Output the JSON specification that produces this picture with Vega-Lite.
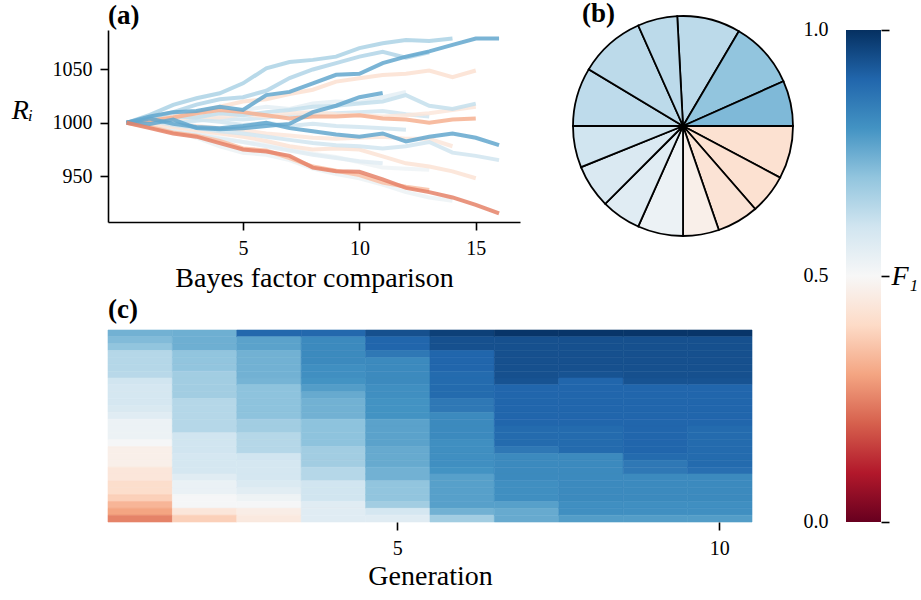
{
"$schema": "https://vega.github.io/schema/vega-lite/v6.json",
"autosize": {"type": "none"},
"padding": {"left": 108, "top": 30, "right": 813, "bottom": 570},
"background": "white",
"config": {
  "font": "Liberation Serif",
  "view": {"stroke": null},
  "axis": {"labelFont": "Liberation Serif", "labelFontSize": 20, "labelColor": "black", "titleFont": "Liberation Serif", "titleFontSize": 28, "titleFontWeight": "normal", "titleColor": "black", "domainColor": "black", "tickColor": "black", "domainWidth": 1.6, "tickWidth": 1.6, "tickSize": 8, "grid": false, "labelPadding": 8},
  "title": {"font": "Liberation Serif", "fontSize": 27, "fontWeight": "bold", "anchor": "start", "color": "black", "frame": "group"}
},
"bounds": "flush",
"spacing": 465,
"hconcat": [
 {"vconcat": [
   {
    "width": 412, "height": 192,
    "title": {"text": "(a)", "offset": 0},
    "data": {"values": [
{"id":1,"f":0.52,"x":0,"y":1000},{"id":1,"f":0.52,"x":1,"y":998},{"id":1,"f":0.52,"x":2,"y":995},{"id":1,"f":0.52,"x":3,"y":990},{"id":1,"f":0.52,"x":4,"y":986},{"id":1,"f":0.52,"x":5,"y":982},{"id":1,"f":0.52,"x":6,"y":980},{"id":1,"f":0.52,"x":7,"y":975},{"id":1,"f":0.52,"x":8,"y":971},{"id":1,"f":0.52,"x":9,"y":968},{"id":1,"f":0.52,"x":10,"y":963},{"id":1,"f":0.52,"x":11,"y":958},{"id":1,"f":0.52,"x":12,"y":957},{"id":1,"f":0.52,"x":13,"y":956},
{"id":2,"f":0.53,"x":0,"y":1000},{"id":2,"f":0.53,"x":1,"y":997},{"id":2,"f":0.53,"x":2,"y":993},{"id":2,"f":0.53,"x":3,"y":986},{"id":2,"f":0.53,"x":4,"y":978},{"id":2,"f":0.53,"x":5,"y":972},{"id":2,"f":0.53,"x":6,"y":970},{"id":2,"f":0.53,"x":7,"y":965},{"id":2,"f":0.53,"x":8,"y":957},{"id":2,"f":0.53,"x":9,"y":952},{"id":2,"f":0.53,"x":10,"y":948},{"id":2,"f":0.53,"x":11,"y":942},{"id":2,"f":0.53,"x":12,"y":935},{"id":2,"f":0.53,"x":13,"y":930},{"id":2,"f":0.53,"x":14,"y":927},
{"id":3,"f":0.56,"x":0,"y":1000},{"id":3,"f":0.56,"x":1,"y":997},{"id":3,"f":0.56,"x":2,"y":992},{"id":3,"f":0.56,"x":3,"y":989},{"id":3,"f":0.56,"x":4,"y":985},{"id":3,"f":0.56,"x":5,"y":982},{"id":3,"f":0.56,"x":6,"y":978},{"id":3,"f":0.56,"x":7,"y":974},{"id":3,"f":0.56,"x":8,"y":970},{"id":3,"f":0.56,"x":9,"y":967},{"id":3,"f":0.56,"x":10,"y":964},{"id":3,"f":0.56,"x":11,"y":962},
{"id":4,"f":0.55,"x":0,"y":1000},{"id":4,"f":0.55,"x":1,"y":1003},{"id":4,"f":0.55,"x":2,"y":1007},{"id":4,"f":0.55,"x":3,"y":1005},{"id":4,"f":0.55,"x":4,"y":1008},{"id":4,"f":0.55,"x":5,"y":1012},{"id":4,"f":0.55,"x":6,"y":1015},{"id":4,"f":0.55,"x":7,"y":1013},{"id":4,"f":0.55,"x":8,"y":1018},{"id":4,"f":0.55,"x":9,"y":1020},{"id":4,"f":0.55,"x":10,"y":1019},{"id":4,"f":0.55,"x":11,"y":1024},{"id":4,"f":0.55,"x":12,"y":1029},
{"id":5,"f":0.6,"x":0,"y":1000},{"id":5,"f":0.6,"x":1,"y":1001},{"id":5,"f":0.6,"x":2,"y":999},{"id":5,"f":0.6,"x":3,"y":1002},{"id":5,"f":0.6,"x":4,"y":1004},{"id":5,"f":0.6,"x":5,"y":1003},{"id":5,"f":0.6,"x":6,"y":1005},{"id":5,"f":0.6,"x":7,"y":1007},{"id":5,"f":0.6,"x":8,"y":1008},{"id":5,"f":0.6,"x":9,"y":1009},{"id":5,"f":0.6,"x":10,"y":1010},{"id":5,"f":0.6,"x":11,"y":1011},{"id":5,"f":0.6,"x":12,"y":1008},{"id":5,"f":0.6,"x":13,"y":1006},
{"id":6,"f":0.6,"x":0,"y":1000},{"id":6,"f":0.6,"x":1,"y":1002},{"id":6,"f":0.6,"x":2,"y":1000},{"id":6,"f":0.6,"x":3,"y":1003},{"id":6,"f":0.6,"x":4,"y":1001},{"id":6,"f":0.6,"x":5,"y":998},{"id":6,"f":0.6,"x":6,"y":1000},{"id":6,"f":0.6,"x":7,"y":997},{"id":6,"f":0.6,"x":8,"y":999},{"id":6,"f":0.6,"x":9,"y":997},{"id":6,"f":0.6,"x":10,"y":996},{"id":6,"f":0.6,"x":11,"y":995},{"id":6,"f":0.6,"x":12,"y":993.5},
{"id":7,"f":0.44,"x":0,"y":1000},{"id":7,"f":0.44,"x":1,"y":1001},{"id":7,"f":0.44,"x":2,"y":998},{"id":7,"f":0.44,"x":3,"y":997},{"id":7,"f":0.44,"x":4,"y":995},{"id":7,"f":0.44,"x":5,"y":993},{"id":7,"f":0.44,"x":6,"y":990},{"id":7,"f":0.44,"x":7,"y":988},{"id":7,"f":0.44,"x":8,"y":986},{"id":7,"f":0.44,"x":9,"y":985},{"id":7,"f":0.44,"x":10,"y":986},{"id":7,"f":0.44,"x":11,"y":987},{"id":7,"f":0.44,"x":12,"y":985},{"id":7,"f":0.44,"x":13,"y":985},{"id":7,"f":0.44,"x":14,"y":978},
{"id":8,"f":0.43,"x":0,"y":1000},{"id":8,"f":0.43,"x":1,"y":998},{"id":8,"f":0.43,"x":2,"y":996},{"id":8,"f":0.43,"x":3,"y":993},{"id":8,"f":0.43,"x":4,"y":990},{"id":8,"f":0.43,"x":5,"y":987},{"id":8,"f":0.43,"x":6,"y":983},{"id":8,"f":0.43,"x":7,"y":978},{"id":8,"f":0.43,"x":8,"y":975},{"id":8,"f":0.43,"x":9,"y":976},{"id":8,"f":0.43,"x":10,"y":975},{"id":8,"f":0.43,"x":11,"y":968.5},{"id":8,"f":0.43,"x":12,"y":962},{"id":8,"f":0.43,"x":13,"y":959},{"id":8,"f":0.43,"x":14,"y":954.5},{"id":8,"f":0.43,"x":15,"y":948},
{"id":9,"f":0.44,"x":0,"y":1000},{"id":9,"f":0.44,"x":1,"y":1001},{"id":9,"f":0.44,"x":2,"y":1003},{"id":9,"f":0.44,"x":3,"y":1006},{"id":9,"f":0.44,"x":4,"y":1005},{"id":9,"f":0.44,"x":5,"y":1008},{"id":9,"f":0.44,"x":6,"y":1006},{"id":9,"f":0.44,"x":7,"y":1009},{"id":9,"f":0.44,"x":8,"y":1010},{"id":9,"f":0.44,"x":9,"y":1008},{"id":9,"f":0.44,"x":10,"y":1007},{"id":9,"f":0.44,"x":11,"y":1006},{"id":9,"f":0.44,"x":12,"y":1007},{"id":9,"f":0.44,"x":13,"y":1009},{"id":9,"f":0.44,"x":14,"y":1012},{"id":9,"f":0.44,"x":15,"y":1015},
{"id":10,"f":0.62,"x":0,"y":1000},{"id":10,"f":0.62,"x":1,"y":1004},{"id":10,"f":0.62,"x":2,"y":1006},{"id":10,"f":0.62,"x":3,"y":1005},{"id":10,"f":0.62,"x":4,"y":1009},{"id":10,"f":0.62,"x":5,"y":1007},{"id":10,"f":0.62,"x":6,"y":1010},{"id":10,"f":0.62,"x":7,"y":1012},{"id":10,"f":0.62,"x":8,"y":1015},{"id":10,"f":0.62,"x":9,"y":1016},{"id":10,"f":0.62,"x":10,"y":1018},{"id":10,"f":0.62,"x":11,"y":1020},{"id":10,"f":0.62,"x":12,"y":1026},{"id":10,"f":0.62,"x":13,"y":1016},{"id":10,"f":0.62,"x":14,"y":1013},{"id":10,"f":0.62,"x":15,"y":1018},
{"id":11,"f":0.6,"x":0,"y":1000},{"id":11,"f":0.6,"x":1,"y":1002},{"id":11,"f":0.6,"x":2,"y":998},{"id":11,"f":0.6,"x":3,"y":995},{"id":11,"f":0.6,"x":4,"y":992},{"id":11,"f":0.6,"x":5,"y":990},{"id":11,"f":0.6,"x":6,"y":987},{"id":11,"f":0.6,"x":7,"y":984},{"id":11,"f":0.6,"x":8,"y":981},{"id":11,"f":0.6,"x":9,"y":979},{"id":11,"f":0.6,"x":10,"y":978},{"id":11,"f":0.6,"x":11,"y":976},{"id":11,"f":0.6,"x":12,"y":978},{"id":11,"f":0.6,"x":13,"y":982},{"id":11,"f":0.6,"x":14,"y":972},{"id":11,"f":0.6,"x":15,"y":969},{"id":11,"f":0.6,"x":16,"y":965},
{"id":12,"f":0.42,"x":0,"y":1000},{"id":12,"f":0.42,"x":1,"y":1002},{"id":12,"f":0.42,"x":2,"y":1006},{"id":12,"f":0.42,"x":3,"y":1010},{"id":12,"f":0.42,"x":4,"y":1015},{"id":12,"f":0.42,"x":5,"y":1020},{"id":12,"f":0.42,"x":6,"y":1022},{"id":12,"f":0.42,"x":7,"y":1027},{"id":12,"f":0.42,"x":8,"y":1031},{"id":12,"f":0.42,"x":9,"y":1038.6},{"id":12,"f":0.42,"x":10,"y":1041.8},{"id":12,"f":0.42,"x":11,"y":1044.9},{"id":12,"f":0.42,"x":12,"y":1046},{"id":12,"f":0.42,"x":13,"y":1049},{"id":12,"f":0.42,"x":14,"y":1042.7},{"id":12,"f":0.42,"x":15,"y":1049},
{"id":13,"f":0.65,"x":0,"y":1000},{"id":13,"f":0.65,"x":1,"y":1005},{"id":13,"f":0.65,"x":2,"y":1010},{"id":13,"f":0.65,"x":3,"y":1017},{"id":13,"f":0.65,"x":4,"y":1022},{"id":13,"f":0.65,"x":5,"y":1024},{"id":13,"f":0.65,"x":6,"y":1030},{"id":13,"f":0.65,"x":7,"y":1042},{"id":13,"f":0.65,"x":8,"y":1050},{"id":13,"f":0.65,"x":9,"y":1056},{"id":13,"f":0.65,"x":10,"y":1062},{"id":13,"f":0.65,"x":11,"y":1066.6},{"id":13,"f":0.65,"x":12,"y":1061},{"id":13,"f":0.65,"x":13,"y":1066},
{"id":14,"f":0.66,"x":0,"y":1000},{"id":14,"f":0.66,"x":1,"y":1007.5},{"id":14,"f":0.66,"x":2,"y":1016.8},{"id":14,"f":0.66,"x":3,"y":1023},{"id":14,"f":0.66,"x":4,"y":1027.7},{"id":14,"f":0.66,"x":5,"y":1037},{"id":14,"f":0.66,"x":6,"y":1051},{"id":14,"f":0.66,"x":7,"y":1057},{"id":14,"f":0.66,"x":8,"y":1059},{"id":14,"f":0.66,"x":9,"y":1062},{"id":14,"f":0.66,"x":10,"y":1070},{"id":14,"f":0.66,"x":11,"y":1074.5},{"id":14,"f":0.66,"x":12,"y":1077.6},{"id":14,"f":0.66,"x":13,"y":1076.6},{"id":14,"f":0.66,"x":14,"y":1079},
{"id":15,"f":0.35,"x":0,"y":1000},{"id":15,"f":0.35,"x":1,"y":996},{"id":15,"f":0.35,"x":2,"y":991},{"id":15,"f":0.35,"x":3,"y":988},{"id":15,"f":0.35,"x":4,"y":983},{"id":15,"f":0.35,"x":5,"y":976},{"id":15,"f":0.35,"x":6,"y":974},{"id":15,"f":0.35,"x":7,"y":967},{"id":15,"f":0.35,"x":8,"y":959},{"id":15,"f":0.35,"x":9,"y":955},{"id":15,"f":0.35,"x":10,"y":951},{"id":15,"f":0.35,"x":11,"y":944},{"id":15,"f":0.35,"x":12,"y":940},{"id":15,"f":0.35,"x":13,"y":937},
{"id":16,"f":0.32,"x":0,"y":1000},{"id":16,"f":0.32,"x":1,"y":1002},{"id":16,"f":0.32,"x":2,"y":1005},{"id":16,"f":0.32,"x":3,"y":1009},{"id":16,"f":0.32,"x":4,"y":1012},{"id":16,"f":0.32,"x":5,"y":1010},{"id":16,"f":0.32,"x":6,"y":1007},{"id":16,"f":0.32,"x":7,"y":1004},{"id":16,"f":0.32,"x":8,"y":1006},{"id":16,"f":0.32,"x":9,"y":1006},{"id":16,"f":0.32,"x":10,"y":1007},{"id":16,"f":0.32,"x":11,"y":1004},{"id":16,"f":0.32,"x":12,"y":1003},{"id":16,"f":0.32,"x":13,"y":1000},{"id":16,"f":0.32,"x":14,"y":1003},{"id":16,"f":0.32,"x":15,"y":1004},
{"id":17,"f":0.76,"x":0,"y":1000},{"id":17,"f":0.76,"x":1,"y":999},{"id":17,"f":0.76,"x":2,"y":1003},{"id":17,"f":0.76,"x":3,"y":995},{"id":17,"f":0.76,"x":4,"y":994},{"id":17,"f":0.76,"x":5,"y":995},{"id":17,"f":0.76,"x":6,"y":997},{"id":17,"f":0.76,"x":7,"y":999},{"id":17,"f":0.76,"x":8,"y":1010},{"id":17,"f":0.76,"x":9,"y":1016},{"id":17,"f":0.76,"x":10,"y":1024},{"id":17,"f":0.76,"x":11,"y":1028},
{"id":18,"f":0.76,"x":0,"y":1000},{"id":18,"f":0.76,"x":1,"y":1004},{"id":18,"f":0.76,"x":2,"y":999},{"id":18,"f":0.76,"x":3,"y":996},{"id":18,"f":0.76,"x":4,"y":995},{"id":18,"f":0.76,"x":5,"y":997},{"id":18,"f":0.76,"x":6,"y":1000},{"id":18,"f":0.76,"x":7,"y":995},{"id":18,"f":0.76,"x":8,"y":992},{"id":18,"f":0.76,"x":9,"y":989},{"id":18,"f":0.76,"x":10,"y":987},{"id":18,"f":0.76,"x":11,"y":990},{"id":18,"f":0.76,"x":12,"y":982.5},{"id":18,"f":0.76,"x":13,"y":987},{"id":18,"f":0.76,"x":14,"y":990},{"id":18,"f":0.76,"x":15,"y":986},{"id":18,"f":0.76,"x":16,"y":979},
{"id":19,"f":0.76,"x":0,"y":1000},{"id":19,"f":0.76,"x":1,"y":1006},{"id":19,"f":0.76,"x":2,"y":1010},{"id":19,"f":0.76,"x":3,"y":1011},{"id":19,"f":0.76,"x":4,"y":1015},{"id":19,"f":0.76,"x":5,"y":1012},{"id":19,"f":0.76,"x":6,"y":1026},{"id":19,"f":0.76,"x":7,"y":1029},{"id":19,"f":0.76,"x":8,"y":1037},{"id":19,"f":0.76,"x":9,"y":1045},{"id":19,"f":0.76,"x":10,"y":1046},{"id":19,"f":0.76,"x":11,"y":1056},{"id":19,"f":0.76,"x":12,"y":1062},{"id":19,"f":0.76,"x":13,"y":1067},{"id":19,"f":0.76,"x":14,"y":1073},{"id":19,"f":0.76,"x":15,"y":1079},{"id":19,"f":0.76,"x":16,"y":1079},
{"id":20,"f":0.25,"x":0,"y":1000},{"id":20,"f":0.25,"x":1,"y":995},{"id":20,"f":0.25,"x":2,"y":990},{"id":20,"f":0.25,"x":3,"y":987},{"id":20,"f":0.25,"x":4,"y":981},{"id":20,"f":0.25,"x":5,"y":975},{"id":20,"f":0.25,"x":6,"y":973},{"id":20,"f":0.25,"x":7,"y":969},{"id":20,"f":0.25,"x":8,"y":958},{"id":20,"f":0.25,"x":9,"y":954.5},{"id":20,"f":0.25,"x":10,"y":954},{"id":20,"f":0.25,"x":11,"y":947},{"id":20,"f":0.25,"x":12,"y":939},{"id":20,"f":0.25,"x":13,"y":935},{"id":20,"f":0.25,"x":14,"y":930},{"id":20,"f":0.25,"x":15,"y":923},{"id":20,"f":0.25,"x":16,"y":915}
    ]},
    "mark": {"type": "line", "strokeWidth": 4, "opacity": 0.85},
    "encoding": {
      "x": {"field": "x", "type": "quantitative", "scale": {"domain": [-0.8, 16.9], "nice": false, "zero": false}, "axis": {"values": [5, 10, 15], "title": "Bayes factor comparison", "titlePadding": 6}},
      "y": {"field": "y", "type": "quantitative", "scale": {"domain": [907, 1087], "nice": false, "zero": false}, "axis": {"values": [950, 1000, 1050], "format": "d", "title": "Rᵢ", "titleAngle": 0, "titleFontStyle": "italic", "titleX": -86, "titleY": 80, "titleAlign": "center", "titleBaseline": "middle"}},
      "detail": {"field": "id", "type": "quantitative"},
      "color": {"field": "f", "type": "quantitative", "scale": {"type": "linear", "domain": [0, 0.1, 0.2, 0.3, 0.4, 0.5, 0.6, 0.7, 0.8, 0.9, 1], "range": ["#67001f", "#b2182b", "#d6604d", "#f4a582", "#fddbc7", "#f7f7f7", "#d1e5f0", "#92c5de", "#4393c3", "#2166ac", "#053061"], "interpolate": "rgb"}, "legend": null}
    }
   },
  {
   "width": 644, "height": 192,
   "title": {"text": "(c)", "offset": 6},
   "data": {"values": [
{"g":1,"r":0,"f":0.74},{"g":1,"r":1,"f":0.72},{"g":1,"r":2,"f":0.70},{"g":1,"r":3,"f":0.645},{"g":1,"r":4,"f":0.645},{"g":1,"r":5,"f":0.645},{"g":1,"r":6,"f":0.64},{"g":1,"r":7,"f":0.60},{"g":1,"r":8,"f":0.59},{"g":1,"r":9,"f":0.59},{"g":1,"r":10,"f":0.59},{"g":1,"r":11,"f":0.58},{"g":1,"r":12,"f":0.56},{"g":1,"r":13,"f":0.53},{"g":1,"r":14,"f":0.53},{"g":1,"r":15,"f":0.53},{"g":1,"r":16,"f":0.505},{"g":1,"r":17,"f":0.47},{"g":1,"r":18,"f":0.47},{"g":1,"r":19,"f":0.47},{"g":1,"r":20,"f":0.44},{"g":1,"r":21,"f":0.44},{"g":1,"r":22,"f":0.41},{"g":1,"r":23,"f":0.41},{"g":1,"r":24,"f":0.38},{"g":1,"r":25,"f":0.33},{"g":1,"r":26,"f":0.30},{"g":1,"r":27,"f":0.25},
{"g":2,"r":0,"f":0.745},{"g":2,"r":1,"f":0.745},{"g":2,"r":2,"f":0.745},{"g":2,"r":3,"f":0.70},{"g":2,"r":4,"f":0.70},{"g":2,"r":5,"f":0.70},{"g":2,"r":6,"f":0.675},{"g":2,"r":7,"f":0.675},{"g":2,"r":8,"f":0.675},{"g":2,"r":9,"f":0.675},{"g":2,"r":10,"f":0.645},{"g":2,"r":11,"f":0.645},{"g":2,"r":12,"f":0.645},{"g":2,"r":13,"f":0.645},{"g":2,"r":14,"f":0.645},{"g":2,"r":15,"f":0.60},{"g":2,"r":16,"f":0.60},{"g":2,"r":17,"f":0.60},{"g":2,"r":18,"f":0.59},{"g":2,"r":19,"f":0.59},{"g":2,"r":20,"f":0.59},{"g":2,"r":21,"f":0.56},{"g":2,"r":22,"f":0.535},{"g":2,"r":23,"f":0.535},{"g":2,"r":24,"f":0.505},{"g":2,"r":25,"f":0.505},{"g":2,"r":26,"f":0.44},{"g":2,"r":27,"f":0.38},
{"g":3,"r":0,"f":0.895},{"g":3,"r":1,"f":0.77},{"g":3,"r":2,"f":0.77},{"g":3,"r":3,"f":0.74},{"g":3,"r":4,"f":0.74},{"g":3,"r":5,"f":0.74},{"g":3,"r":6,"f":0.74},{"g":3,"r":7,"f":0.735},{"g":3,"r":8,"f":0.705},{"g":3,"r":9,"f":0.705},{"g":3,"r":10,"f":0.705},{"g":3,"r":11,"f":0.705},{"g":3,"r":12,"f":0.705},{"g":3,"r":13,"f":0.675},{"g":3,"r":14,"f":0.675},{"g":3,"r":15,"f":0.645},{"g":3,"r":16,"f":0.645},{"g":3,"r":17,"f":0.645},{"g":3,"r":18,"f":0.60},{"g":3,"r":19,"f":0.59},{"g":3,"r":20,"f":0.59},{"g":3,"r":21,"f":0.59},{"g":3,"r":22,"f":0.575},{"g":3,"r":23,"f":0.555},{"g":3,"r":24,"f":0.525},{"g":3,"r":25,"f":0.505},{"g":3,"r":26,"f":0.465},{"g":3,"r":27,"f":0.45},
{"g":4,"r":0,"f":0.895},{"g":4,"r":1,"f":0.82},{"g":4,"r":2,"f":0.82},{"g":4,"r":3,"f":0.82},{"g":4,"r":4,"f":0.82},{"g":4,"r":5,"f":0.81},{"g":4,"r":6,"f":0.81},{"g":4,"r":7,"f":0.80},{"g":4,"r":8,"f":0.78},{"g":4,"r":9,"f":0.755},{"g":4,"r":10,"f":0.74},{"g":4,"r":11,"f":0.74},{"g":4,"r":12,"f":0.74},{"g":4,"r":13,"f":0.705},{"g":4,"r":14,"f":0.705},{"g":4,"r":15,"f":0.705},{"g":4,"r":16,"f":0.705},{"g":4,"r":17,"f":0.675},{"g":4,"r":18,"f":0.675},{"g":4,"r":19,"f":0.675},{"g":4,"r":20,"f":0.645},{"g":4,"r":21,"f":0.645},{"g":4,"r":22,"f":0.60},{"g":4,"r":23,"f":0.60},{"g":4,"r":24,"f":0.60},{"g":4,"r":25,"f":0.56},{"g":4,"r":26,"f":0.56},{"g":4,"r":27,"f":0.56},
{"g":5,"r":0,"f":0.94},{"g":5,"r":1,"f":0.90},{"g":5,"r":2,"f":0.90},{"g":5,"r":3,"f":0.86},{"g":5,"r":4,"f":0.82},{"g":5,"r":5,"f":0.82},{"g":5,"r":6,"f":0.82},{"g":5,"r":7,"f":0.82},{"g":5,"r":8,"f":0.81},{"g":5,"r":9,"f":0.81},{"g":5,"r":10,"f":0.80},{"g":5,"r":11,"f":0.80},{"g":5,"r":12,"f":0.80},{"g":5,"r":13,"f":0.77},{"g":5,"r":14,"f":0.77},{"g":5,"r":15,"f":0.77},{"g":5,"r":16,"f":0.77},{"g":5,"r":17,"f":0.755},{"g":5,"r":18,"f":0.755},{"g":5,"r":19,"f":0.755},{"g":5,"r":20,"f":0.74},{"g":5,"r":21,"f":0.74},{"g":5,"r":22,"f":0.70},{"g":5,"r":23,"f":0.70},{"g":5,"r":24,"f":0.70},{"g":5,"r":25,"f":0.675},{"g":5,"r":26,"f":0.59},{"g":5,"r":27,"f":0.56},
{"g":6,"r":0,"f":0.97},{"g":6,"r":1,"f":0.94},{"g":6,"r":2,"f":0.94},{"g":6,"r":3,"f":0.90},{"g":6,"r":4,"f":0.90},{"g":6,"r":5,"f":0.90},{"g":6,"r":6,"f":0.89},{"g":6,"r":7,"f":0.89},{"g":6,"r":8,"f":0.89},{"g":6,"r":9,"f":0.89},{"g":6,"r":10,"f":0.86},{"g":6,"r":11,"f":0.86},{"g":6,"r":12,"f":0.82},{"g":6,"r":13,"f":0.82},{"g":6,"r":14,"f":0.82},{"g":6,"r":15,"f":0.82},{"g":6,"r":16,"f":0.81},{"g":6,"r":17,"f":0.81},{"g":6,"r":18,"f":0.81},{"g":6,"r":19,"f":0.81},{"g":6,"r":20,"f":0.80},{"g":6,"r":21,"f":0.775},{"g":6,"r":22,"f":0.775},{"g":6,"r":23,"f":0.775},{"g":6,"r":24,"f":0.775},{"g":6,"r":25,"f":0.775},{"g":6,"r":26,"f":0.74},{"g":6,"r":27,"f":0.675},
{"g":7,"r":0,"f":0.99},{"g":7,"r":1,"f":0.94},{"g":7,"r":2,"f":0.94},{"g":7,"r":3,"f":0.94},{"g":7,"r":4,"f":0.94},{"g":7,"r":5,"f":0.94},{"g":7,"r":6,"f":0.94},{"g":7,"r":7,"f":0.935},{"g":7,"r":8,"f":0.90},{"g":7,"r":9,"f":0.90},{"g":7,"r":10,"f":0.90},{"g":7,"r":11,"f":0.90},{"g":7,"r":12,"f":0.90},{"g":7,"r":13,"f":0.90},{"g":7,"r":14,"f":0.89},{"g":7,"r":15,"f":0.89},{"g":7,"r":16,"f":0.89},{"g":7,"r":17,"f":0.86},{"g":7,"r":18,"f":0.82},{"g":7,"r":19,"f":0.82},{"g":7,"r":20,"f":0.82},{"g":7,"r":21,"f":0.82},{"g":7,"r":22,"f":0.81},{"g":7,"r":23,"f":0.81},{"g":7,"r":24,"f":0.81},{"g":7,"r":25,"f":0.775},{"g":7,"r":26,"f":0.755},{"g":7,"r":27,"f":0.755},
{"g":8,"r":0,"f":0.99},{"g":8,"r":1,"f":0.94},{"g":8,"r":2,"f":0.94},{"g":8,"r":3,"f":0.94},{"g":8,"r":4,"f":0.94},{"g":8,"r":5,"f":0.94},{"g":8,"r":6,"f":0.935},{"g":8,"r":7,"f":0.90},{"g":8,"r":8,"f":0.90},{"g":8,"r":9,"f":0.90},{"g":8,"r":10,"f":0.90},{"g":8,"r":11,"f":0.90},{"g":8,"r":12,"f":0.90},{"g":8,"r":13,"f":0.90},{"g":8,"r":14,"f":0.89},{"g":8,"r":15,"f":0.89},{"g":8,"r":16,"f":0.89},{"g":8,"r":17,"f":0.89},{"g":8,"r":18,"f":0.82},{"g":8,"r":19,"f":0.82},{"g":8,"r":20,"f":0.82},{"g":8,"r":21,"f":0.82},{"g":8,"r":22,"f":0.82},{"g":8,"r":23,"f":0.82},{"g":8,"r":24,"f":0.82},{"g":8,"r":25,"f":0.81},{"g":8,"r":26,"f":0.81},{"g":8,"r":27,"f":0.78},
{"g":9,"r":0,"f":0.99},{"g":9,"r":1,"f":0.94},{"g":9,"r":2,"f":0.94},{"g":9,"r":3,"f":0.94},{"g":9,"r":4,"f":0.94},{"g":9,"r":5,"f":0.94},{"g":9,"r":6,"f":0.94},{"g":9,"r":7,"f":0.935},{"g":9,"r":8,"f":0.90},{"g":9,"r":9,"f":0.90},{"g":9,"r":10,"f":0.90},{"g":9,"r":11,"f":0.90},{"g":9,"r":12,"f":0.90},{"g":9,"r":13,"f":0.90},{"g":9,"r":14,"f":0.90},{"g":9,"r":15,"f":0.90},{"g":9,"r":16,"f":0.90},{"g":9,"r":17,"f":0.90},{"g":9,"r":18,"f":0.89},{"g":9,"r":19,"f":0.86},{"g":9,"r":20,"f":0.86},{"g":9,"r":21,"f":0.82},{"g":9,"r":22,"f":0.82},{"g":9,"r":23,"f":0.82},{"g":9,"r":24,"f":0.82},{"g":9,"r":25,"f":0.81},{"g":9,"r":26,"f":0.81},{"g":9,"r":27,"f":0.78},
{"g":10,"r":0,"f":0.99},{"g":10,"r":1,"f":0.94},{"g":10,"r":2,"f":0.94},{"g":10,"r":3,"f":0.94},{"g":10,"r":4,"f":0.94},{"g":10,"r":5,"f":0.94},{"g":10,"r":6,"f":0.94},{"g":10,"r":7,"f":0.935},{"g":10,"r":8,"f":0.90},{"g":10,"r":9,"f":0.90},{"g":10,"r":10,"f":0.90},{"g":10,"r":11,"f":0.90},{"g":10,"r":12,"f":0.90},{"g":10,"r":13,"f":0.90},{"g":10,"r":14,"f":0.89},{"g":10,"r":15,"f":0.89},{"g":10,"r":16,"f":0.89},{"g":10,"r":17,"f":0.89},{"g":10,"r":18,"f":0.89},{"g":10,"r":19,"f":0.89},{"g":10,"r":20,"f":0.88},{"g":10,"r":21,"f":0.82},{"g":10,"r":22,"f":0.82},{"g":10,"r":23,"f":0.82},{"g":10,"r":24,"f":0.82},{"g":10,"r":25,"f":0.81},{"g":10,"r":26,"f":0.81},{"g":10,"r":27,"f":0.78}
   ]},
   "mark": {"type": "rect", "strokeWidth": 0.6},
   "encoding": {
     "x": {"field": "g", "type": "ordinal", "scale": {"paddingInner": 0, "paddingOuter": 0}, "axis": {"values": [5, 10], "labelAngle": 0, "domain": false, "title": "Generation", "titlePadding": 4}},
     "y": {"field": "r", "type": "ordinal", "scale": {"paddingInner": 0, "paddingOuter": 0}, "axis": null},
     "color": {"field": "f", "type": "quantitative", "scale": {"type": "linear", "domain": [0, 0.1, 0.2, 0.3, 0.4, 0.5, 0.6, 0.7, 0.8, 0.9, 1], "range": ["#67001f", "#b2182b", "#d6604d", "#f4a582", "#fddbc7", "#f7f7f7", "#d1e5f0", "#92c5de", "#4393c3", "#2166ac", "#053061"], "interpolate": "rgb"}, "legend": null},
     "stroke": {"field": "f", "type": "quantitative", "scale": {"type": "linear", "domain": [0, 0.1, 0.2, 0.3, 0.4, 0.5, 0.6, 0.7, 0.8, 0.9, 1], "range": ["#67001f", "#b2182b", "#d6604d", "#f4a582", "#fddbc7", "#f7f7f7", "#d1e5f0", "#92c5de", "#4393c3", "#2166ac", "#053061"], "interpolate": "rgb"}, "legend": null}
   }
  }
 ], "spacing": 108, "bounds": "flush"},
 {"hconcat": [
   {
    "width": 220, "height": 192,
    "title": {"text": "(b)", "offset": -16, "dx": 9},
    "data": {"values": [
      {"k":1,"s":33.5,"f":0.633},{"k":2,"s":35.5,"f":0.70},{"k":3,"s":24,"f":0.724},{"k":4,"s":28,"f":0.42},{"k":5,"s":21,"f":0.42},{"k":6,"s":22,"f":0.43},{"k":7,"s":19,"f":0.47},{"k":8,"s":24,"f":0.53},{"k":9,"s":21,"f":0.56},{"k":10,"s":23,"f":0.576},{"k":11,"s":22,"f":0.6},{"k":12,"s":31,"f":0.63},{"k":13,"s":35,"f":0.633},{"k":14,"s":21,"f":0.633}
    ]},
    "mark": {"type": "arc", "radius": 110, "stroke": "black", "strokeWidth": 1.8},
    "encoding": {
      "theta": {"field": "s", "type": "quantitative", "stack": true, "scale": {"range": [-0.05236, 6.23083]}},
      "order": {"field": "k", "type": "quantitative"},
      "color": {"field": "f", "type": "quantitative", "scale": {"type": "linear", "domain": [0, 0.1, 0.2, 0.3, 0.4, 0.5, 0.6, 0.7, 0.8, 0.9, 1], "range": ["#67001f", "#b2182b", "#d6604d", "#f4a582", "#fddbc7", "#f7f7f7", "#d1e5f0", "#92c5de", "#4393c3", "#2166ac", "#053061"], "interpolate": "rgb"}, "legend": null}
    }
   },
   {
    "width": 35, "height": 492,
    "layer": [
     {"data": {"values": [{"lo": 0, "hi": 1}]},
      "mark": {"type": "rect", "fill": {"gradient": "linear", "x1": 0, "y1": 1, "x2": 0, "y2": 0, "stops": [
        {"offset": 0, "color": "#67001f"}, {"offset": 0.1, "color": "#b2182b"}, {"offset": 0.2, "color": "#d6604d"}, {"offset": 0.3, "color": "#f4a582"}, {"offset": 0.4, "color": "#fddbc7"}, {"offset": 0.5, "color": "#f7f7f7"}, {"offset": 0.6, "color": "#d1e5f0"}, {"offset": 0.7, "color": "#92c5de"}, {"offset": 0.8, "color": "#4393c3"}, {"offset": 0.9, "color": "#2166ac"}, {"offset": 1, "color": "#053061"}]}},
      "encoding": {
        "y": {"field": "lo", "type": "quantitative", "scale": {"domain": [0, 1], "nice": false}, "axis": {"orient": "right", "values": [0, 0.5, 1], "labelExpr": "datum.value == 0.5 ? 'F₁' : ''", "domain": false, "labelFontStyle": "italic", "labelFontSize": 28, "labelPadding": 2, "title": null}},
        "y2": {"field": "hi"}
      }},
     {"data": {"values": [{"v": 0}, {"v": 0.5}, {"v": 1}]},
      "mark": {"type": "text", "align": "right", "baseline": "middle", "dx": -35, "fontSize": 20, "font": "Liberation Serif", "color": "black"},
      "encoding": {
        "y": {"field": "v", "type": "quantitative"},
        "text": {"field": "v", "type": "quantitative", "format": ".1f"}
      }}
    ]
   }
 ], "spacing": 53, "bounds": "flush"}
]
}
